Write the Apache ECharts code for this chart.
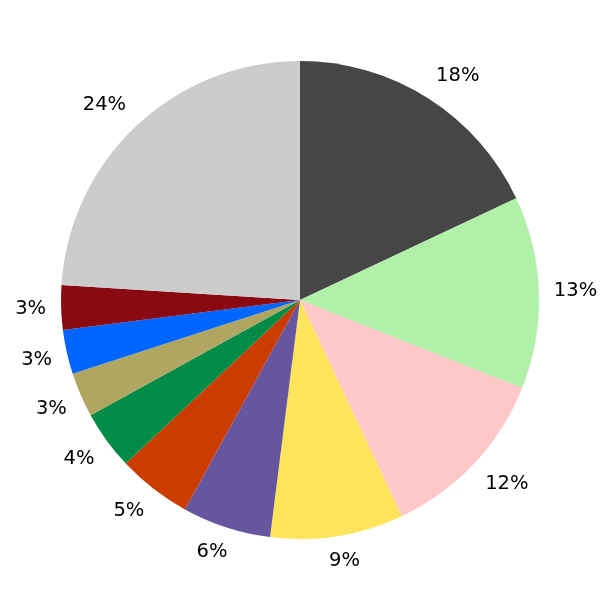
<!DOCTYPE html>
<html>
<head>
<meta charset="utf-8">
<script src="https://cdn.jsdelivr.net/npm/echarts@6/dist/echarts.min.js"></script>
<style>
html,body{margin:0;padding:0;background:#fff;}
#main{width:600px;height:600px;}
</style>
</head>
<body>
<div id="main"></div>
<script>
const values = [18, 13, 12, 9, 6, 5, 4, 3, 3, 3, 24];
const sliceColors = ['#464646', '#b0f0a8', '#ffc8c8', '#ffe45c', '#6656a0', '#cc3c00', '#008c46', '#b0a662', '#0066ff', '#8b0a12', '#cccccc'];
const total = values.reduce((a, b) => a + b, 0);

const chart = echarts.init(document.getElementById('main'), null, {renderer: 'canvas'});
const pieRadius = 239;
const labelAnchor = 254;

function clamp1(t) { return Math.max(-1, Math.min(1, t)); }

function labelPos(params) {
  const i = params.dataIndex;
  let before = 0;
  for (let k = 0; k < i; k++) before += values[k];
  const theta = (before + values[i] / 2) / total * 2 * Math.PI;
  const ux = Math.sin(theta), uy = -Math.cos(theta);
  const w = params.labelRect.width, h = 20;
  const cx = chart.getWidth() / 2, cy = chart.getHeight() / 2;
  return {
    x: cx + ux * labelAnchor + w / 2 * clamp1(2 * ux),
    y: cy + uy * labelAnchor + h / 2 * clamp1(2 * uy),
    align: 'center',
    verticalAlign: 'middle'
  };
}

chart.setOption({
  animation: false,
  backgroundColor: '#ffffff',
  series: [{
    type: 'pie',
    center: ['50%', '50%'],
    radius: pieRadius,
    startAngle: 90,
    clockwise: true,
    avoidLabelOverlap: false,
    percentPrecision: 0,
    data: values.map((v, i) => ({value: v, itemStyle: {color: sliceColors[i]}})),
    itemStyle: {borderWidth: 0},
    emphasis: {disabled: true},
    label: {
      show: true,
      position: 'outside',
      formatter: '{d}%',
      fontFamily: 'DejaVu Sans',
      fontSize: 19.5,
      color: '#000000'
    },
    labelLine: {show: false},
    labelLayout: labelPos
  }]
});
</script>
</body>
</html>
